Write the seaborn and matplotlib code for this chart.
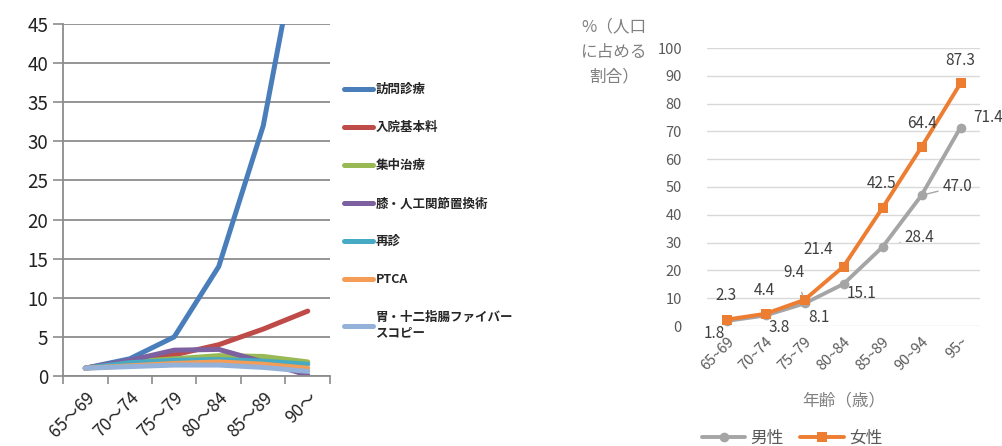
import numpy as np
import pandas as pd
import matplotlib
matplotlib.use("Agg")
import matplotlib.pyplot as plt
import seaborn as sns

# left chart: ratio by age group for each procedure
age_left = ["65～69", "70～74", "75～79", "80～84", "85～89", "90～"]
procedures = ["訪問診療", "入院基本料", "集中治療", "膝・人工関節置換術", "再診", "PTCA",
              "胃・十二指腸ファイバー\nスコピー"]
houmon = [1.0, 2.2, 5.0, 14.0, 32.0, 62.0]
nyuin = [1.0, 1.8, 2.7, 4.0, 6.0, 8.3]
shuchu = [1.0, 1.8, 2.2, 2.6, 2.5, 1.8]
hiza = [1.0, 2.0, 3.3, 3.4, 1.8, 0.1]
saishin = [1.0, 1.7, 2.0, 2.1, 1.9, 1.5]
ptca = [1.0, 1.3, 1.6, 1.8, 1.5, 1.0]
ifiber = [1.0, 1.2, 1.4, 1.4, 1.1, 0.6]
left_colors = ["#4A7EBB", "#BE4B48", "#98B954", "#7D60A0", "#46AAC5", "#F59D56", "#93B1D9"]

# right chart: share of population by age and sex (%)
age_right = ["65~69", "70~74", "75~79", "80~84", "85~89", "90~94", "95~"]
female = [2.3, 4.4, 9.4, 21.4, 42.5, 64.4, 87.3]
male = [1.8, 3.8, 8.1, 15.1, 28.4, 47.0, 71.4]

sns.set_theme(style="white")
plt.rcParams["font.family"] = ["Noto Sans CJK JP", "DejaVu Sans"]

fig = plt.figure(figsize=(10.03, 4.46), dpi=100)

# ---------------- left chart ----------------
axl = fig.add_axes([63 / 1003, 1 - 376 / 446, 267 / 1003, 352 / 446])
rows = []
for name, vals in zip(procedures, [houmon, nyuin, shuchu, hiza, saishin, ptca, ifiber]):
    for i, v in enumerate(vals):
        rows.append({"age": i, "proc": name, "val": v})
df_left = pd.DataFrame(rows)
sns.lineplot(data=df_left, x="age", y="val", hue="proc", hue_order=procedures,
             palette=left_colors, linewidth=3.6, ax=axl, sort=False)
axl.set_xlim(-0.5, 5.5)
axl.set_ylim(0, 45)
axl.set_yticks(np.arange(0, 46, 5))
axl.yaxis.grid(True, color="#8C8C8C", linewidth=1.3)
axl.set_axisbelow(True)
axl.set_xticks(np.arange(-0.5, 5.6, 1))
axl.set_xticklabels([])
axl.set_xticks(np.arange(0, 6), minor=True)
axl.set_xticklabels(age_left, minor=True, rotation=45, ha="right",
                    rotation_mode="anchor", fontsize=12.5, color="#222222")
axl.tick_params(axis="x", which="major", length=6, color="#8C8C8C", width=1.2, bottom=True)
axl.tick_params(axis="x", which="minor", length=0, pad=9)
axl.tick_params(axis="y", length=7, color="#8C8C8C", width=1.2, left=True,
                labelsize=13.5, labelcolor="#222222")
for s in ["top", "right"]:
    axl.spines[s].set_visible(False)
axl.spines["left"].set_color("#8C8C8C")
axl.spines["bottom"].set_color("#8C8C8C")
axl.spines["left"].set_linewidth(1.3)
axl.spines["bottom"].set_linewidth(1.3)
axl.set_xlabel("")
axl.set_ylabel("")
axl.legend(loc="upper left", bbox_to_anchor=(333 / 1003, 1 - 72 / 446),
           bbox_transform=fig.transFigure, frameon=False,
           labelspacing=2.0, handlelength=2.3, handletextpad=0.2,
           prop={"weight": "bold", "size": 9})

# ---------------- right chart ----------------
axr = fig.add_axes([707 / 1003, 1 - 326 / 446, 273 / 1003, 278 / 446])
df_right = pd.DataFrame({"age": list(range(7)) * 2,
                         "val": male + female,
                         "sex": ["男性"] * 7 + ["女性"] * 7})
sns.lineplot(data=df_right, x="age", y="val", hue="sex", style="sex",
             hue_order=["男性", "女性"], style_order=["男性", "女性"],
             palette=["#A5A5A5", "#ED7D31"], markers=["o", "s"], dashes=False,
             linewidth=2.8, markersize=7, markeredgewidth=0, ax=axr, sort=False)
axr.set_xlim(-0.5, 6.5)
axr.set_ylim(0, 100)
axr.set_yticks(np.arange(0, 101, 10))
axr.yaxis.grid(True, color="#D9D9D9", linewidth=1.0)
axr.set_axisbelow(True)
axr.set_xticks(range(7))
axr.set_xticklabels(age_right, rotation=45, ha="right", rotation_mode="anchor")
axr.tick_params(axis="both", length=0, labelsize=10.5, labelcolor="#595959")
axr.tick_params(axis="y", pad=18)
axr.tick_params(axis="x", pad=6)
for s in axr.spines.values():
    s.set_visible(False)
axr.set_xlabel("年齢（歳）", fontsize=12, color="#808080", labelpad=14)
axr.set_ylabel("")
fig.text(614 / 1003, 1 - 52 / 446, "%（人口\nに占める\n割合）", ha="center", va="center",
         fontsize=12, color="#808080", linespacing=1.6)

# data labels (pixel offsets from each point)
f_off = [(-1, 24), (-1, 23), (-10, 27), (-25, 17), (-1, 24), (0, 23), (0, 23)]
m_off = [(-12, -13), (14, -12), (14, -14), (18, -9), (37, 10), (36, 9), (28, 10)]
for i in range(7):
    dx, dy = f_off[i]
    kw = {}
    if i == 2:
        kw["arrowprops"] = dict(arrowstyle="-", color="#A5A5A5", lw=1, shrinkA=6, shrinkB=3)
    axr.annotate(f"{female[i]:.1f}", (i, female[i]), xytext=(dx, dy),
                 textcoords="offset pixels", ha="center", va="center",
                 fontsize=11, color="#404040", **kw)
    dx, dy = m_off[i]
    kw = {}
    if i in (4, 5):
        kw["arrowprops"] = dict(arrowstyle="-", color="#A5A5A5", lw=1, shrinkA=1, shrinkB=13)
    axr.annotate(f"{male[i]:.1f}", (i, male[i]), xytext=(dx, dy),
                 textcoords="offset pixels", ha="center", va="center",
                 fontsize=11, color="#404040", **kw)

axr.legend(loc="center", bbox_to_anchor=(792 / 1003, 1 - 438 / 446),
           bbox_transform=fig.transFigure, ncol=2, frameon=False,
           fontsize=12, handlelength=2.6, columnspacing=1.0, handletextpad=0.3,
           labelcolor="#595959")

fig.savefig("out.png", dpi=100)
